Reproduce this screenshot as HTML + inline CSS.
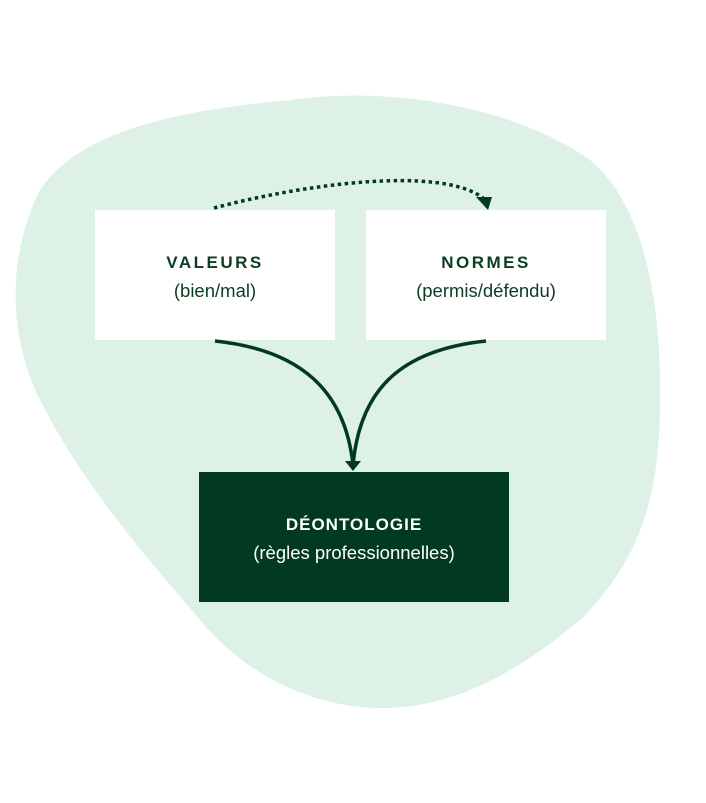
<!DOCTYPE html>
<html><head><style>
body{margin:0;width:706px;height:803px;background:#fff;position:relative;overflow:hidden;font-family:"Liberation Sans",sans-serif}
.b{position:absolute;display:flex;flex-direction:column;align-items:center;justify-content:center;text-align:center;color:#0a3d22;font-size:18.5px;line-height:28px}
.b strong{font-size:17px;letter-spacing:2.5px;font-weight:bold}
</style></head><body>
<svg width="706" height="803" style="position:absolute;left:0;top:0">
<path d="M290,100 C400,85 520,110 590,160 C650,210 662,320 660,410 C658,500 640,560 580,620 C520,670 460,705 390,708 C320,710 250,680 200,620 C140,550 80,480 40,400 C10,340 5,260 40,190 C80,130 180,110 290,100 Z" fill="#ddf1e7"/>
<rect x="95" y="210" width="240" height="130" fill="#fff"/>
<rect x="366" y="210" width="240" height="130" fill="#fff"/>
<rect x="199" y="472" width="310" height="130" fill="#013a20"/>
<path d="M214,208 C300,185 440,165 483,198" fill="none" stroke="#013a20" stroke-width="3.5" stroke-dasharray="3.5,3.5"/>
<path d="M476,197 L492,197 L488,210 Z" fill="#013a20"/>
<path d="M215,341 C300,350 345,390 353,465" fill="none" stroke="#013a20" stroke-width="3.5"/>
<path d="M486,341 C400,350 360,390 353,465" fill="none" stroke="#013a20" stroke-width="3.5"/>
<path d="M345,461 L361,461 L353,471 Z" fill="#013a20"/>
</svg>
<div class="b" style="left:95px;top:212px;width:240px;height:130px"><strong>VALEURS</strong>(bien/mal)</div>
<div class="b" style="left:366px;top:212px;width:240px;height:130px"><strong>NORMES</strong>(permis/défendu)</div>
<div class="b" style="left:199px;top:474px;width:310px;height:130px;color:#fff"><strong style="letter-spacing:1px">DÉONTOLOGIE</strong>(règles professionnelles)</div>
</body></html>
